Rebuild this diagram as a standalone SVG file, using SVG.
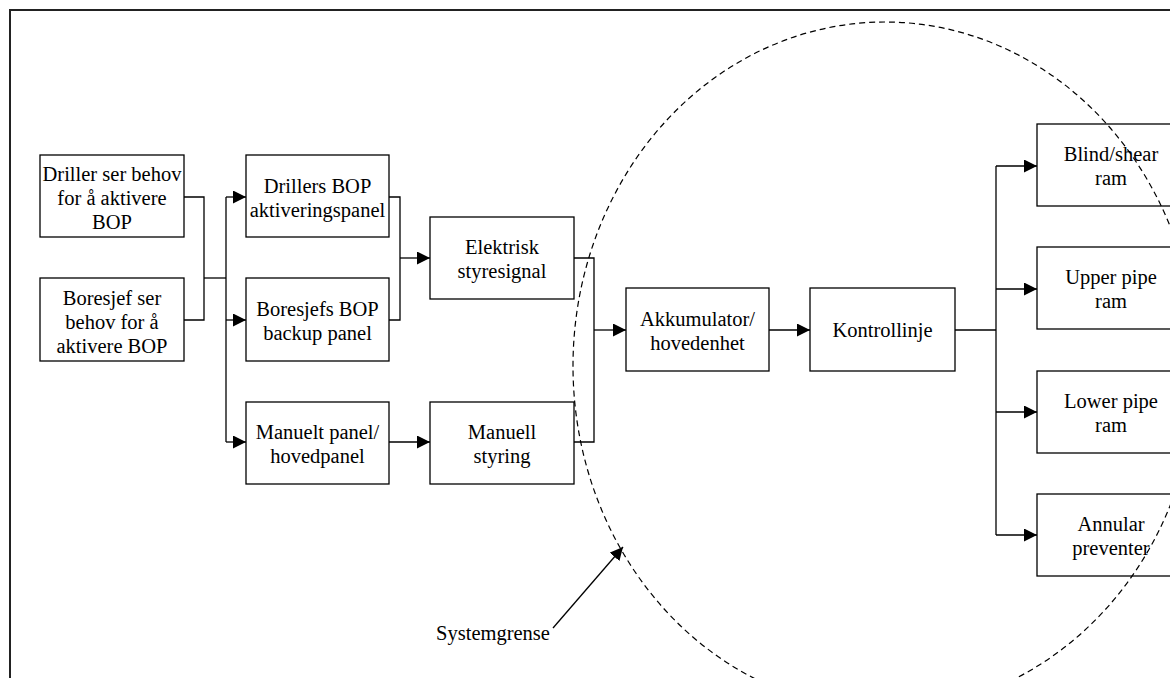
<svg xmlns="http://www.w3.org/2000/svg" width="1170" height="678" viewBox="0 0 1170 678">
  <style>
    .box { fill: #ffffff; stroke: #000000; stroke-width: 1.3; }
    .lbl { font-family: "Liberation Serif", "Times New Roman", serif; font-size: 20.5px; fill: #000000; text-anchor: middle; }
    .wire { fill: none; stroke: #000000; stroke-width: 1.3; }
    .arrow { fill: none; stroke: #000000; stroke-width: 1.3; marker-end: url(#head); }
    .boundary { fill: none; stroke: #000000; stroke-width: 1.2; stroke-dasharray: 6 4; }
  </style>
  <defs>
    <marker id="head" viewBox="0 0 13 13" refX="13" refY="6.5" markerWidth="13" markerHeight="13" markerUnits="userSpaceOnUse" orient="auto">
      <path d="M0,0 L13,6.5 L0,13 Z" fill="#000000"/>
    </marker>
  </defs>

  <rect width="1170" height="678" fill="#ffffff"/>
  <!-- page frame -->
  <path d="M10,678 V10 H1170" fill="none" stroke="#222222" stroke-width="2"/>

  <!-- connectors -->
  <g id="connectors">
    <path class="wire" d="M184,197 H204 V320 H184"/>
    <path class="wire" d="M204,278 H226"/>
    <path class="wire" d="M226,197 V442"/>
    <path class="arrow" d="M226,197 H246"/>
    <path class="arrow" d="M226,320 H246"/>
    <path class="arrow" d="M226,442 H246"/>
    <path class="wire" d="M389,197 H400 V320 H389"/>
    <path class="arrow" d="M400,258 H430"/>
    <path class="arrow" d="M389,442 H430"/>
    <path class="wire" d="M574,258 H594 V442 H574"/>
    <path class="arrow" d="M594,330 H626"/>
    <path class="arrow" d="M769,330 H810"/>
    <path class="wire" d="M955,330 H996"/>
    <path class="wire" d="M996,166 V535"/>
    <path class="arrow" d="M996,166 H1037"/>
    <path class="arrow" d="M996,289 H1037"/>
    <path class="arrow" d="M996,412 H1037"/>
    <path class="arrow" d="M996,535 H1037"/>
    <path class="arrow" d="M553,628 L623,547"/>
  </g>

  <!-- nodes -->
  <g id="driller-behov">
    <rect class="box" x="40" y="155" width="144" height="82"/>
    <text class="lbl" x="112" y="181">Driller ser behov</text>
    <text class="lbl" x="112" y="205">for å aktivere</text>
    <text class="lbl" x="112" y="229">BOP</text>
  </g>
  <g id="boresjef-behov">
    <rect class="box" x="40" y="278" width="144" height="83"/>
    <text class="lbl" x="112" y="305">Boresjef ser</text>
    <text class="lbl" x="112" y="329">behov for å</text>
    <text class="lbl" x="112" y="353">aktivere BOP</text>
  </g>
  <g id="drillers-panel">
    <rect class="box" x="246" y="155" width="143" height="82"/>
    <text class="lbl" x="317.5" y="192.5">Drillers BOP</text>
    <text class="lbl" x="317.5" y="216.5">aktiveringspanel</text>
  </g>
  <g id="boresjefs-panel">
    <rect class="box" x="246" y="278" width="143" height="83"/>
    <text class="lbl" x="317.5" y="316">Boresjefs BOP</text>
    <text class="lbl" x="317.5" y="340">backup panel</text>
  </g>
  <g id="manuelt-panel">
    <rect class="box" x="246" y="402" width="143" height="82"/>
    <text class="lbl" x="317.5" y="439">Manuelt panel/</text>
    <text class="lbl" x="317.5" y="463">hovedpanel</text>
  </g>
  <g id="elektrisk">
    <rect class="box" x="430" y="217" width="144" height="82"/>
    <text class="lbl" x="502" y="254">Elektrisk</text>
    <text class="lbl" x="502" y="278">styresignal</text>
  </g>
  <g id="manuell-styring">
    <rect class="box" x="430" y="402" width="144" height="82"/>
    <text class="lbl" x="502" y="439">Manuell</text>
    <text class="lbl" x="502" y="463">styring</text>
  </g>
  <g id="akkumulator">
    <rect class="box" x="626" y="288" width="143" height="83"/>
    <text class="lbl" x="697.5" y="326">Akkumulator/</text>
    <text class="lbl" x="697.5" y="350">hovedenhet</text>
  </g>
  <g id="kontrollinje">
    <rect class="box" x="810" y="288" width="145" height="83"/>
    <text class="lbl" x="882.5" y="337">Kontrollinje</text>
  </g>
  <g id="blind-shear">
    <rect class="box" x="1037" y="124" width="148" height="82"/>
    <text class="lbl" x="1111" y="161">Blind/shear</text>
    <text class="lbl" x="1111" y="185">ram</text>
  </g>
  <g id="upper-pipe">
    <rect class="box" x="1037" y="247" width="148" height="82"/>
    <text class="lbl" x="1111" y="284">Upper pipe</text>
    <text class="lbl" x="1111" y="308">ram</text>
  </g>
  <g id="lower-pipe">
    <rect class="box" x="1037" y="371" width="148" height="82"/>
    <text class="lbl" x="1111" y="408">Lower pipe</text>
    <text class="lbl" x="1111" y="432">ram</text>
  </g>
  <g id="annular">
    <rect class="box" x="1037" y="494" width="148" height="82"/>
    <text class="lbl" x="1111" y="531">Annular</text>
    <text class="lbl" x="1111" y="555">preventer</text>
  </g>

  <!-- system boundary -->
  <g id="systemgrense">
    <ellipse class="boundary" cx="885" cy="366" rx="312" ry="344"/>
    <text class="lbl" x="493" y="640">Systemgrense</text>
  </g>
</svg>
